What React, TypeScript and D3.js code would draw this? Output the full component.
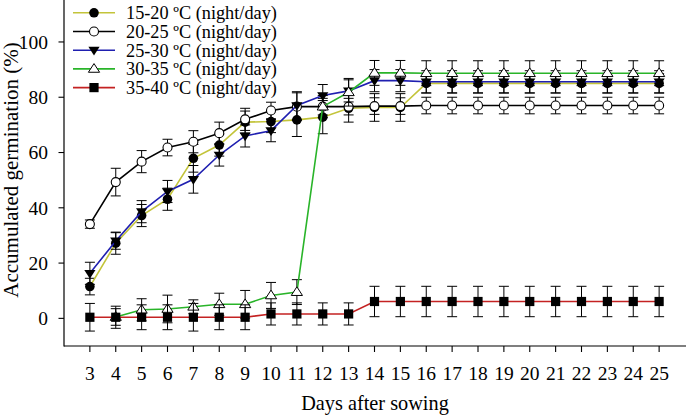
import React from "react";
import * as d3 from "d3";

const days = [3, 4, 5, 6, 7, 8, 9, 10, 11, 12, 13, 14, 15, 16, 17, 18, 19, 20, 21, 22, 23, 24, 25];
const yTicks = [0, 20, 40, 60, 80, 100];

const s1520 = [11.5, 27.2, 37.2, 43.1, 57.9, 62.7, 71.0, 71.2, 71.8, 72.8, 76.0, 76.3, 76.3, 85, 85, 85, 85, 85, 85, 85, 85, 85, 85];
const e1520 = [3, 4, 4, 4, 5, 4, 4, 4, 6, 6, 5, 5, 5, 3.5, 3.5, 3.5, 3.5, 3.5, 3.5, 3.5, 3.5, 3.5, 3.5];
const s2025 = [34.1, 49.3, 56.7, 61.8, 63.9, 67.0, 72.0, 75.2, 76.6, 76.6, 76.6, 76.8, 76.8, 77, 77, 77, 77, 77, 77, 77, 77, 77, 77];
const e2025 = [1.5, 5, 4, 3, 4, 4, 4, 3, 5, 3, 3, 3, 3, 3, 3, 3, 3, 3, 3, 3, 3, 3, 3];
const s2530 = [16.3, 28.0, 38.6, 45.9, 50.3, 59.1, 66.0, 67.9, 77.0, 80.6, 82.3, 86, 86, 85.6, 85.6, 85.6, 85.6, 85.6, 85.6, 85.6, 85.6, 85.6, 85.6];
const e2530 = [4, 3, 4, 4, 5, 4, 4, 4, 5, 4, 4, 4, 4, 4, 4, 4, 4, 4, 4, 4, 4, 4, 4];
const s3035 = [null, 0.5, 3.1, 3.4, 4.2, 5.1, 5.1, 8.3, 9.5, 76.6, 81.8, 88.8, 88.8, 88.7, 88.7, 88.7, 88.7, 88.7, 88.7, 88.7, 88.7, 88.7, 88.7];
const e3035 = [null, 3, 4, 5, 2.5, 4, 5, 4.7, 4.5, 4, 5, 4.5, 4.5, 4.5, 4.5, 4.5, 4.5, 4.5, 4.5, 4.5, 4.5, 4.5, 4.5];
const s3540 = [0.4, 0.4, 0.4, 0.4, 0.4, 0.4, 0.4, 1.6, 1.6, 1.6, 1.6, 6.1, 6.1, 6.1, 6.1, 6.1, 6.1, 6.1, 6.1, 6.1, 6.1, 6.1, 6.1];
const e3540 = [5, 4, 4.5, 4.5, 5, 4.5, 4.5, 4, 4, 4, 4, 5.5, 5.5, 5.5, 5.5, 5.5, 5.5, 5.5, 5.5, 5.5, 5.5, 5.5, 5.5];

const seriesLabels = ["15-20 ºC (night/day)", "20-25 ºC (night/day)", "25-30 ºC (night/day)", "30-35 ºC (night/day)", "35-40 ºC (night/day)"];
const seriesColors = ["#c3c43a", "#000000", "#1f1fb0", "#29b429", "#c42222"];
const seriesMarkers = ["circleFilled", "circleOpen", "triDown", "triUp", "square"];

const FONT = "'Liberation Serif', 'Times New Roman', serif";

function Marker({ type, x, y }: { type: string; x: number; y: number }) {
  if (type === "circleFilled") return <circle cx={x} cy={y} r={4.8} fill="#000" />;
  if (type === "circleOpen") return <circle cx={x} cy={y} r={4.5} fill="#fff" stroke="#000" strokeWidth={1.1} />;
  if (type === "square") return <rect x={x - 4.6} y={y - 4.6} width={9.2} height={9.2} fill="#000" />;
  if (type === "triDown") {
    const s = 5.6;
    return <path d={`M${x - s},${y - s * 0.6}L${x + s},${y - s * 0.6}L${x},${y + s * 0.95}Z`} fill="#000" />;
  }
  const s = 5.6;
  return <path d={`M${x - s},${y + s * 0.6}L${x + s},${y + s * 0.6}L${x},${y - s * 0.95}Z`} fill="#fff" stroke="#000" strokeWidth={1} />;
}

export default function App() {
  const W = 686, H = 417;
  const x = d3.scaleLinear().domain([2, 26]).range([64, 685]);
  const y = d3.scaleLinear().domain([-10, 115]).range([346, 0.5]);
  const series = [
    { v: s1520, e: e1520 },
    { v: s2025, e: e2025 },
    { v: s2530, e: e2530 },
    { v: s3035, e: e3035 },
    { v: s3540, e: e3540 },
  ];
  const line = d3
    .line<[number, number | null]>()
    .defined((d) => d[1] != null)
    .x((d) => x(d[0]))
    .y((d) => y(d[1] as number));

  const legendY = (i: number) => 12.8 + i * 18.7;

  return (
    <svg width={W} height={H} style={{ position: "absolute", left: 0, top: 0, background: "#fff" }} fontFamily={FONT}>
      <rect width={W} height={H} fill="#fff" />
      {/* axes */}
      <line x1={64} x2={64} y1={0} y2={346.5} stroke="#000" strokeWidth={1.2} />
      <line x1={64} x2={686} y1={346} y2={346} stroke="#000" strokeWidth={1.2} />
      {yTicks.map((t) => (
        <g key={t}>
          <line x1={58.5} x2={64} y1={y(t)} y2={y(t)} stroke="#000" strokeWidth={1.1} />
          <text x={48} y={y(t)} dy="0.35em" textAnchor="end" fontSize={19.5}>{t}</text>
        </g>
      ))}
      {days.map((d) => (
        <g key={d}>
          <line x1={x(d)} x2={x(d)} y1={346} y2={352} stroke="#000" strokeWidth={1.1} />
          <text x={x(d)} y={380} textAnchor="middle" fontSize={19.5}>{d}</text>
        </g>
      ))}
      <text x={375} y={410} textAnchor="middle" fontSize={20.3}>Days after sowing</text>
      <text transform="translate(17.5,170) rotate(-90)" textAnchor="middle" fontSize={21}>Accumulated germination (%)</text>

      {/* series */}
      {series.map((s, i) => {
        const pts: [number, number | null][] = days.map((d, j) => [d, s.v[j]]);
        return (
          <g key={i}>
            {days.map((d, j) => {
              const v = s.v[j];
              const e = s.e[j];
              if (v == null || e == null) return null;
              const cx = x(d);
              return (
                <g key={j} stroke="#000" strokeWidth={1}>
                  <line x1={cx} x2={cx} y1={y(v + e)} y2={y(v - e)} />
                  <line x1={cx - 5} x2={cx + 5} y1={y(v + e)} y2={y(v + e)} />
                  <line x1={cx - 5} x2={cx + 5} y1={y(v - e)} y2={y(v - e)} />
                </g>
              );
            })}
            <path d={line(pts) || ""} fill="none" stroke={seriesColors[i]} strokeWidth={1.6} />
            {days.map((d, j) => {
              const v = s.v[j];
              if (v == null) return null;
              return <Marker key={j} type={seriesMarkers[i]} x={x(d)} y={y(v)} />;
            })}
          </g>
        );
      })}

      {/* legend */}
      {seriesLabels.map((lab, i) => (
        <g key={lab}>
          <line x1={73} x2={115} y1={legendY(i)} y2={legendY(i)} stroke={seriesColors[i]} strokeWidth={1.6} />
          <Marker type={seriesMarkers[i]} x={94} y={legendY(i)} />
          <text x={126} y={legendY(i)} dy="0.35em" fontSize={18.3}>{lab}</text>
        </g>
      ))}
    </svg>
  );
}
